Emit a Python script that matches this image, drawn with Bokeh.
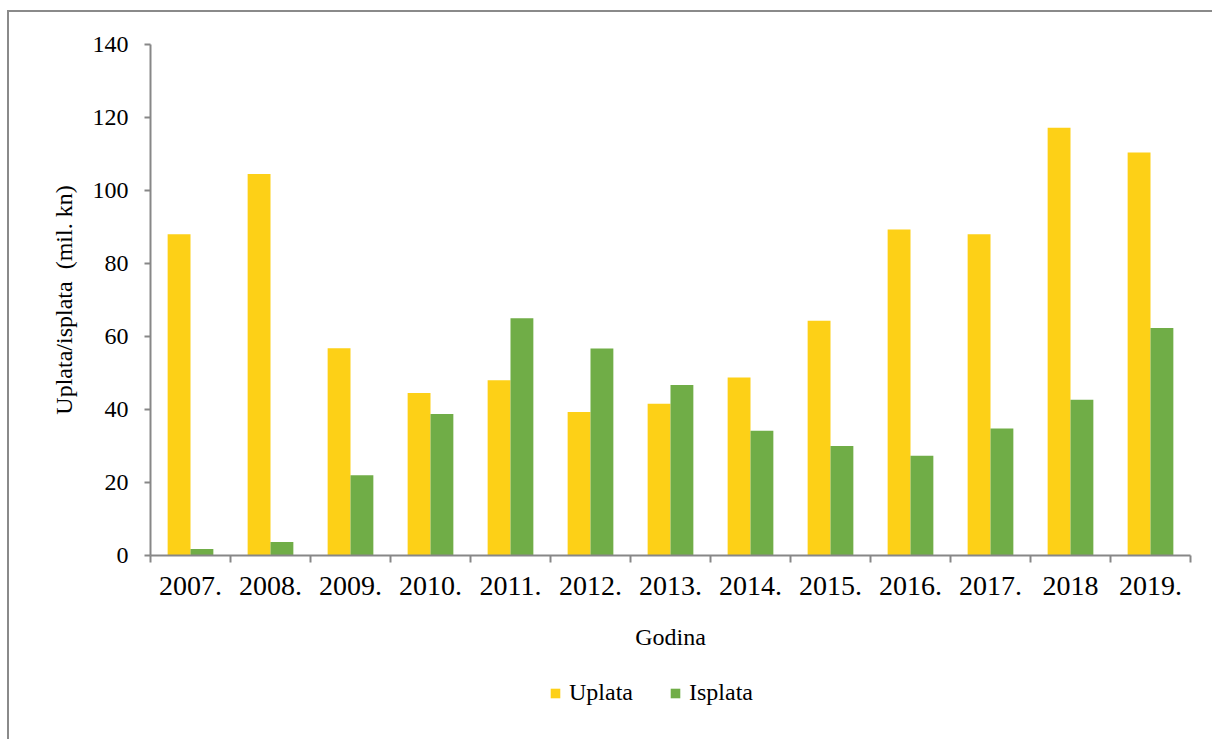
import numpy as np
from bokeh.plotting import figure
from bokeh.layouts import column
from bokeh.models import ColumnDataSource, FixedTicker, Legend, LegendItem, Range1d
from bokeh.embed import file_html
from bokeh.resources import INLINE

years = ["2007.", "2008.", "2009.", "2010.", "2011.", "2012.", "2013.",
         "2014.", "2015.", "2016.", "2017.", "2018", "2019."]
uplata = [88.0, 104.5, 56.8, 44.5, 48.0, 39.3, 41.6, 48.8, 64.3, 89.3, 88.0, 117.2, 110.4]
isplata = [1.8, 3.7, 22.0, 38.8, 65.0, 56.7, 46.7, 34.2, 30.0, 27.3, 34.8, 42.7, 62.3]
y_ticks = [0, 20, 40, 60, 80, 100, 120, 140]
series = ["Uplata", "Isplata"]

YELLOW = "#FDD017"
GREEN = "#70AD47"
AXIS = "#878787"
FONT = "Liberation Serif"

n = len(years)
centers = np.arange(n) + 0.5
bar_w = 2 / 7
src = ColumnDataSource(dict(x_u=centers - bar_w / 2, x_i=centers + bar_w / 2,
                            uplata=uplata, isplata=isplata))

p = figure(width=1203, height=648, x_range=Range1d(0, n), y_range=Range1d(0, 140),
           output_backend="svg", toolbar_location=None,
           min_border_left=141, min_border_right=22, min_border_top=32, min_border_bottom=105)
p.outline_line_color = None
p.xgrid.visible = False
p.ygrid.visible = False

r1 = p.vbar(x="x_u", top="uplata", width=bar_w, source=src, fill_color=YELLOW, line_color=None)
r2 = p.vbar(x="x_i", top="isplata", width=bar_w, source=src, fill_color=GREEN, line_color=None)

xa = p.xaxis[0]
xa.ticker = FixedTicker(ticks=list(centers), minor_ticks=list(range(n + 1)))
xa.major_label_overrides = {float(c): y for c, y in zip(centers, years)}
xa.major_tick_line_color = None
xa.major_tick_out = 0
xa.major_tick_in = 0
xa.minor_tick_line_color = AXIS
xa.minor_tick_line_width = 2
xa.minor_tick_out = 7
xa.minor_tick_in = 0
xa.axis_line_color = AXIS
xa.axis_line_width = 2
xa.major_label_text_font = FONT
xa.major_label_text_font_size = "28px"
xa.major_label_text_color = "black"
xa.major_label_standoff = 14
xa.axis_label = "Godina"
xa.axis_label_text_font = FONT
xa.axis_label_text_font_size = "24px"
xa.axis_label_text_font_style = "normal"
xa.axis_label_text_color = "black"
xa.axis_label_standoff = 26

ya = p.yaxis[0]
ya.ticker = FixedTicker(ticks=y_ticks)
ya.major_tick_line_color = AXIS
ya.major_tick_line_width = 2
ya.major_tick_out = 6
ya.major_tick_in = 0
ya.minor_tick_line_color = None
ya.axis_line_color = AXIS
ya.axis_line_width = 2
ya.major_label_text_font = FONT
ya.major_label_text_font_size = "24px"
ya.major_label_text_color = "black"
ya.major_label_standoff = 16
ya.axis_label = "Uplata/isplata\u00a0 (mil. kn)"
ya.axis_label_text_font = FONT
ya.axis_label_text_font_size = "24px"
ya.axis_label_text_font_style = "normal"
ya.axis_label_text_color = "black"
ya.axis_label_standoff = 13

# legend strip below the chart (its bars lie outside this strip's y range)
p2 = figure(width=1203, height=79, x_range=Range1d(0, n), y_range=Range1d(1000, 1001),
            output_backend="svg", toolbar_location=None,
            min_border_left=0, min_border_right=0, min_border_top=0, min_border_bottom=0)
p2.axis.visible = False
p2.xgrid.visible = False
p2.ygrid.visible = False
p2.outline_line_color = None
l1 = p2.vbar(x="x_u", top="uplata", width=bar_w, source=src, fill_color=YELLOW, line_color=None)
l2 = p2.vbar(x="x_i", top="isplata", width=bar_w, source=src, fill_color=GREEN, line_color=None)

legend = Legend(items=[LegendItem(label=series[0], renderers=[l1]),
                       LegendItem(label=series[1], renderers=[l2])],
                orientation="horizontal", location=(399, 33),
                glyph_width=12, glyph_height=12, label_standoff=8, spacing=36,
                padding=0, margin=0, border_line_color=None, background_fill_alpha=0,
                label_text_font=FONT, label_text_font_size="24px", label_text_color="black")
p2.add_layout(legend)

layout = column(p, p2, spacing=0,
                styles={"border-left": "2px solid #8a8a8a", "border-top": "2px solid #8a8a8a",
                        "margin-top": "10px", "margin-left": "7px"})

open("out.html", "w").write(file_html(layout, INLINE))
